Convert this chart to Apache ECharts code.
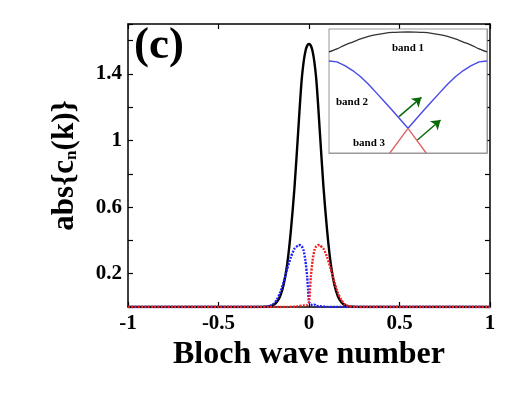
<!DOCTYPE html>
<html><head><meta charset="utf-8">
<script src="https://cdn.jsdelivr.net/npm/echarts@6/dist/echarts.min.js"></script>
<style>html,body{margin:0;padding:0;background:#fff}#c{width:519px;height:393px}</style>
</head><body><div id="c"></div>
<script>
// ---- main panel data (Bloch wave number vs abs{c_n(k)}) ----
const blackK   = [-1,-0.5,-0.3,-0.26,-0.24,-0.22,-0.2,-0.18,-0.16,-0.14,-0.12,-0.1,-0.08,-0.06,-0.05,-0.04,-0.03,-0.02,-0.01,0,0.01,0.02,0.03,0.04,0.05,0.06,0.08,0.1,0.12,0.14,0.16,0.18,0.2,0.22,0.24,0.26,0.3,0.5,1];
const blackAmp = [0,0,0,0.001,0.002,0.004,0.01,0.027,0.063,0.135,0.26,0.46,0.72,1.05,1.22,1.37,1.47,1.535,1.57,1.58,1.57,1.535,1.47,1.37,1.22,1.05,0.72,0.46,0.26,0.135,0.063,0.027,0.01,0.004,0.002,0.001,0,0,0];

const blueK   = [-1,-0.5,-0.26,-0.22,-0.2,-0.18,-0.16,-0.14,-0.12,-0.1,-0.08,-0.06,-0.05,-0.04,-0.03,-0.02,-0.01,-0.005,0,0.01,0.02,0.03,0.04,0.06,0.08,0.1,0.12,0.5,1];
const blueAmp = [0,0,0,0.005,0.015,0.04,0.085,0.15,0.23,0.30,0.35,0.37,0.372,0.365,0.34,0.28,0.18,0.10,0.03,0.018,0.01,0.014,0.006,0.005,0.003,0.001,0,0,0];

const redK   = [-1,-0.5,-0.12,-0.06,-0.03,-0.01,0,0.005,0.01,0.02,0.03,0.04,0.05,0.06,0.08,0.1,0.12,0.14,0.16,0.18,0.2,0.22,0.26,0.5,1];
const redAmp = [0,0,0,0.004,0.01,0.012,0.03,0.10,0.18,0.28,0.34,0.365,0.372,0.37,0.35,0.30,0.23,0.15,0.085,0.04,0.015,0.005,0,0,0];

const yTickLabels = ['0.2','0.6','1','1.4'];
const xTitle = 'Bloch wave number';
const panelLabel = '(c)';

// ---- inset data (band structure) ----
const insetK = [-1,-0.9,-0.8,-0.7,-0.6,-0.5,-0.4,-0.3,-0.2,-0.1,0,0.1,0.2,0.3,0.4,0.5,0.6,0.7,0.8,0.9,1];
const band1  = [0.815,0.84,0.87,0.895,0.92,0.94,0.955,0.965,0.972,0.975,0.976,0.975,0.972,0.965,0.955,0.94,0.92,0.895,0.87,0.84,0.815];
const band2  = [0.742,0.735,0.705,0.665,0.615,0.555,0.485,0.415,0.345,0.272,0.199,0.272,0.345,0.415,0.485,0.555,0.615,0.665,0.705,0.735,0.742];
const band3K = [-0.23,0,0.23];
const band3  = [0,0.199,0];
const arrowStart = [[-0.114,0.293],[0.119,0.105]];
const arrowEnd   = [[0.170,0.449],[0.412,0.266]];
const bandNames = ['band 1','band 2','band 3'];

const zip = (a,b) => a.map((v,i)=>[v,b[i]]);
const FF = 'Liberation Serif';
const black = '#000';

const mainAxisLine = {show:true, onZero:false, lineStyle:{color:black, width:1.5}};
const mainTick = {show:true, inside:true, length:5, lineStyle:{color:black, width:1.2}};
const insetAxisLine = {show:true, onZero:false, lineStyle:{color:'#999', width:1}};
const insetTick = {show:true, inside:true, length:3, lineStyle:{color:'#999', width:1}};

const chart = echarts.init(document.getElementById('c'), null, {renderer:'canvas'});
chart.setOption({
  animation:false,
  backgroundColor:'#fff',
  grid:[
    {left:128, top:24, width:362, height:283, outerBoundsMode:'none', containLabel:false},
    {left:329, top:29, width:158, height:124, outerBoundsMode:'none', containLabel:false, show:true, backgroundColor:'#fff', borderColor:'#999', borderWidth:1, z:5}
  ],
  xAxis:[
    {gridIndex:0, type:'value', min:-1, max:1, interval:0.5, position:'bottom',
     axisLine:mainAxisLine, axisTick:mainTick, splitLine:{show:false},
     axisLabel:{color:black, fontFamily:FF, fontWeight:'bold', fontSize:21, margin:6},
     name:xTitle, nameLocation:'middle', nameGap:32,
     nameTextStyle:{color:black, fontFamily:FF, fontWeight:'bold', fontSize:32}},
    {gridIndex:0, type:'value', min:-1, max:1, interval:0.5, position:'top',
     axisLine:mainAxisLine, axisTick:mainTick, splitLine:{show:false}, axisLabel:{show:false}},
    {gridIndex:1, type:'value', min:-1, max:1, interval:0.5, position:'bottom',
     axisLine:insetAxisLine, axisTick:insetTick, splitLine:{show:false}, axisLabel:{show:false}},
    {gridIndex:1, type:'value', min:-1, max:1, interval:0.5, position:'top',
     axisLine:insetAxisLine, axisTick:insetTick, splitLine:{show:false}, axisLabel:{show:false}}
  ],
  yAxis:[
    {gridIndex:0, type:'value', min:0, max:1.7, interval:0.2, position:'left',
     axisLine:mainAxisLine, axisTick:mainTick, splitLine:{show:false},
     axisLabel:{color:black, fontFamily:FF, fontWeight:'bold', fontSize:21, margin:6,
       formatter:v=>{const s=String(Math.round(v*10)/10); return yTickLabels.includes(s)?s:'';}},
     name:'abs{c{n|n}(k)}', nameLocation:'middle', nameGap:48, nameRotate:90,
     nameTextStyle:{color:black, fontFamily:FF, fontWeight:'bold', fontSize:31,
       rich:{n:{fontFamily:FF, fontWeight:'bold', fontSize:17, color:black, padding:[14,0,0,0]}}}},
    {gridIndex:0, type:'value', min:0, max:1.7, interval:0.2, position:'right',
     axisLine:mainAxisLine, axisTick:mainTick, splitLine:{show:false}, axisLabel:{show:false}},
    {gridIndex:1, type:'value', min:0, max:1, interval:0.1, position:'left',
     axisLine:insetAxisLine, axisTick:insetTick, splitLine:{show:false}, axisLabel:{show:false}},
    {gridIndex:1, type:'value', min:0, max:1, interval:0.1, position:'right',
     axisLine:insetAxisLine, axisTick:insetTick, splitLine:{show:false}, axisLabel:{show:false}}
  ],
  series:[
    {type:'line', xAxisIndex:0, yAxisIndex:0, data:zip(blackK,blackAmp), showSymbol:false,
     smooth:0.25, lineStyle:{color:'#000', width:2.4}, z:3},
    {type:'line', xAxisIndex:0, yAxisIndex:0, data:zip(blueK,blueAmp), showSymbol:false,
     smooth:0.2, lineStyle:{color:'#1f1fff', width:2.4, type:[2,1.3]}, z:4},
    {type:'line', xAxisIndex:0, yAxisIndex:0, data:zip(redK,redAmp), showSymbol:false,
     smooth:0.2, lineStyle:{color:'#ee2222', width:2.4, type:[2,1.3]}, z:4},
    {type:'line', xAxisIndex:2, yAxisIndex:2, data:zip(insetK,band1), showSymbol:false,
     smooth:0.3, lineStyle:{color:'#333', width:1.3}, z:10},
    {type:'line', xAxisIndex:2, yAxisIndex:2, data:zip(insetK,band2), showSymbol:false,
     smooth:false, lineStyle:{color:'#4848e8', width:1.4}, z:10},
    {type:'line', xAxisIndex:2, yAxisIndex:2, data:zip(band3K,band3), showSymbol:false,
     lineStyle:{color:'#e06060', width:1.3}, z:10},
    {type:'lines', coordinateSystem:'cartesian2d', xAxisIndex:2, yAxisIndex:2, z:11,
     symbol:['none','arrow'], symbolSize:9,
     lineStyle:{color:'#0a6a0a', width:1.5, opacity:1},
     data:arrowStart.map((s,i)=>({coords:[s, arrowEnd[i]]}))}
  ],
  graphic:[
    {type:'text', left:134, top:24, z:100, style:{text:panelLabel, font:'bold 45px "Liberation Serif"', fill:black}},
    {type:'text', x:408, y:48, z:100, style:{text:bandNames[0], font:'bold 11px "Liberation Serif"', fill:black, align:'center', verticalAlign:'middle'}},
    {type:'text', x:352, y:102, z:100, style:{text:bandNames[1], font:'bold 11px "Liberation Serif"', fill:black, align:'center', verticalAlign:'middle'}},
    {type:'text', x:369, y:143, z:100, style:{text:bandNames[2], font:'bold 11px "Liberation Serif"', fill:black, align:'center', verticalAlign:'middle'}}
  ]
});
</script></body></html>
